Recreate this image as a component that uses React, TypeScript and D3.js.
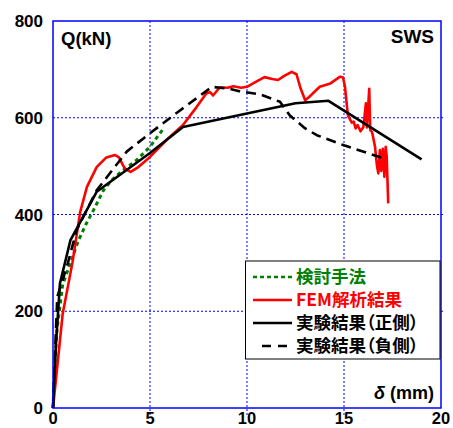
import React from "react";
import * as d3 from "d3";

// 検討手法
const calcD = [0, 0.1, 0.2, 0.5, 0.9, 1.3, 1.7, 2.1, 2.6, 3.0, 3.5, 4.3, 5.0, 5.7];
const calcQ = [0, 95, 160, 255, 300, 345, 380, 410, 450, 470, 488, 512, 540, 578];

// FEM解析結果
const femD = [
  0, 0.5, 1.0, 1.4, 1.75, 2.25, 2.75, 3.2, 3.4, 3.7, 4.0, 4.4, 5.0, 5.85, 6.7,
  7.4, 7.9, 8.1, 8.25, 8.6, 9.0, 9.3, 9.7, 10.0, 10.5, 10.9, 11.3, 11.6, 11.9,
  12.3, 12.55, 12.75, 13.0, 13.2, 13.75, 14.3, 14.8, 14.95, 15.05, 15.2, 15.4,
  15.5, 15.6, 15.7, 15.85, 16.0, 16.13, 16.18, 16.3, 16.35, 16.45, 16.6, 16.7,
  16.77, 16.85, 16.92, 17.0, 17.08, 17.15, 17.2, 17.28,
];
const femQ = [
  0, 195, 300, 405, 457, 498, 518, 523, 518, 495, 488, 498, 519, 554, 585,
  622, 650, 653, 646, 663, 662, 665, 662, 664, 675, 684, 680, 678, 686,
  695, 690, 662, 636, 643, 664, 671, 685, 683, 664, 605, 590,
  592, 578, 585, 572, 581, 630, 580, 660, 575, 570, 540, 500,
  485, 533, 490, 536, 478, 540, 520, 423,
];

// 実験結果（正側）
const posD = [0, 0.15, 0.36, 0.9, 2.25, 5.0, 6.7, 12.5, 14.2, 19.0];
const posQ = [0, 130, 258, 347, 447, 527, 581, 630, 635, 514];

// 実験結果（負側）
const negD = [0, 0.1, 0.22, 0.5, 0.77, 1.22, 2.25, 3.8, 5.0, 6.44, 8.2, 8.6, 9.1, 9.6, 10.7, 11.7, 12.2, 13.0, 13.6, 15.0, 17.2];
const negQ = [0, 110, 230, 265, 300, 368, 450, 530, 568, 612, 664, 662, 660, 655, 648, 633, 605, 578, 564, 543, 514];

const xTicks = [0, 5, 10, 15, 20];
const yTicks = [0, 200, 400, 600, 800];

const series = [
  { name: "検討手法", d: calcD, q: calcQ, color: "#008000", dash: "4,3.5", width: 3, legendDash: "4,3" },
  { name: "FEM解析結果", d: femD, q: femQ, color: "#ff0000", dash: "", width: 2.6, legendDash: "" },
  { name: "実験結果（正側）", d: posD, q: posQ, color: "#000000", dash: "", width: 2.6, legendDash: "" },
  { name: "実験結果（負側）", d: negD, q: negQ, color: "#000000", dash: "10,6", width: 2.6, legendDash: "9,7" },
];

const W = 453;
const H = 428;
const left = 53;
const right = 441;
const top = 21;
const bottom = 408;

const App: React.FC = () => {
  const x = d3.scaleLinear().domain([0, 20]).range([left, right]);
  const y = d3.scaleLinear().domain([0, 800]).range([bottom, top]);

  const line = (ds: number[], qs: number[]) =>
    d3
      .line<number>()
      .x((_, i) => x(ds[i]))
      .y((v) => y(v))
      .curve(d3.curveLinear)(qs) || "";

  const numFont = "'Liberation Sans', Arial, sans-serif";
  const cjkFont = "'Noto Sans CJK JP', 'Liberation Sans', sans-serif";

  const legX = 245.5;
  const legY = 261;
  const legRows = [277, 300, 323, 346];

  return (
    <svg
      width={W}
      height={H}
      style={{ position: "fixed", left: 0, top: 0, background: "#fff" }}
    >
      <rect x={0} y={0} width={W} height={H} fill="#fff" />

      {/* grid */}
      {xTicks.slice(1, -1).map((t) => (
        <line
          key={"gx" + t}
          x1={x(t)}
          x2={x(t)}
          y1={top}
          y2={bottom + 8}
          stroke="#0000ff"
          strokeWidth={1}
          strokeDasharray="2,2"
        />
      ))}
      {yTicks.slice(1, -1).map((t) => (
        <line
          key={"gy" + t}
          x1={left}
          x2={right + 2}
          y1={y(t)}
          y2={y(t)}
          stroke="#0000ff"
          strokeWidth={1}
          strokeDasharray="2,2"
        />
      ))}

      {/* curves */}
      <defs>
        <clipPath id="clip">
          <rect x={left - 2} y={top} width={right - left + 2} height={bottom - top + 2} />
        </clipPath>
      </defs>
      <g clipPath="url(#clip)">
        {series.map((s) => (
          <path
            key={s.name}
            d={line(s.d, s.q)}
            fill="none"
            stroke={s.color}
            strokeWidth={s.width}
            strokeDasharray={s.dash || undefined}
            strokeLinejoin="round"
          />
        ))}
      </g>

      {/* frame */}
      <rect
        x={left}
        y={top}
        width={right - left}
        height={bottom - top}
        fill="none"
        stroke="#0000ff"
        strokeWidth={1.5}
      />

      {/* tick labels */}
      {yTicks.map((t) => (
        <text
          key={"ty" + t}
          x={43}
          y={y(t)}
          dy="0.36em"
          textAnchor="end"
          fontFamily={numFont}
          fontWeight="bold"
          fontSize={17}
          fill="#000"
        >
          {t}
        </text>
      ))}
      {xTicks.map((t) => (
        <text
          key={"tx" + t}
          x={x(t)}
          y={424}
          textAnchor="middle"
          fontFamily={numFont}
          fontWeight="bold"
          fontSize={16.5}
          fill="#000"
        >
          {t}
        </text>
      ))}

      {/* labels */}
      <text x={61} y={45} fontFamily={numFont} fontWeight="bold" fontSize={18.5} fill="#000">
        Q(kN)
      </text>
      <text x={434} y={43} textAnchor="end" fontFamily={numFont} fontWeight="bold" fontSize={19} fill="#000">
        SWS
      </text>
      <text x={434} y={399} textAnchor="end" fontFamily={numFont} fontWeight="bold" fontSize={18} fill="#000">
        <tspan fontStyle="italic">δ</tspan>
        <tspan> (mm)</tspan>
      </text>

      {/* legend */}
      <rect x={legX} y={legY} width={right - legX - 1} height={98} fill="#fff" stroke="#000" strokeWidth={1} />
      {series.map((s, i) => (
        <g key={"leg" + s.name}>
          <line
            x1={i === 3 ? 262 : 253}
            x2={292}
            y1={legRows[i]}
            y2={legRows[i]}
            stroke={s.color}
            strokeWidth={2.6}
            strokeDasharray={s.legendDash || undefined}
          />
          <text
            x={296}
            y={legRows[i] + 6}
            fontFamily={cjkFont}
            fontWeight="bold"
            fontSize={17.5}
            fill={s.color}
            style={{ fontFeatureSettings: '"palt"' }}
          >
            {s.name}
          </text>
        </g>
      ))}
    </svg>
  );
};

export default App;
